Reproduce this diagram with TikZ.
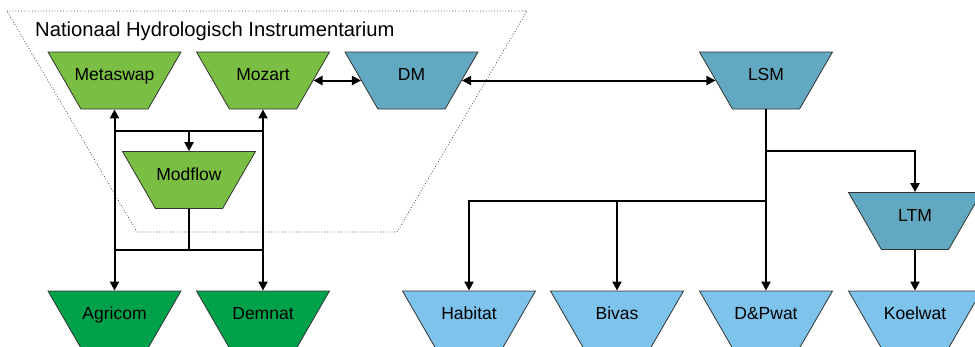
\documentclass[tikz,border=0pt]{standalone}
\usepackage{fontspec}
\setmainfont{Liberation Sans}
\usetikzlibrary{shapes.geometric, arrows.meta}

\definecolor{nhigreen}{RGB}{122,190,67}
\definecolor{agrgreen}{RGB}{0,161,75}
\definecolor{dmblue}{RGB}{98,168,192}
\definecolor{userblue}{RGB}{125,195,235}

% name sits over the box, without widening it
\newcommand{\mname}[1]{\makebox[0pt]{#1}}

\tikzset{
  model/.style={trapezium, shape border rotate=180, trapezium angle=60,
    trapezium stretches body, minimum width=133pt,
    inner xsep=0pt, inner ysep=16pt, draw=black!80, line width=0.8pt,
    font=\fontsize{17.5}{20}\selectfont, text height=12.5pt, text depth=12.5pt},
  link/.style={line width=2pt},
  tip/.style={-{Triangle[length=9pt,width=9pt]}},
  tips/.style={{Triangle[length=9pt,width=9pt]}-{Triangle[length=9pt,width=9pt]}}
}

\begin{document}
\begin{tikzpicture}[x=1pt,y=-1pt]
\useasboundingbox (0,0) rectangle (975,346);
\clip (0,0) rectangle (975,346);

% NHI boundary
\draw[dotted, line width=0.8pt, black!70] (7,11) -- (527,11) -- (397,232) -- (137,232) -- cycle;
\node[anchor=base west, inner sep=0pt, font=\fontsize{20.2}{24}\selectfont] (nhi) at (35,36) {Nationaal Hydrologisch Instrumentarium};

% models
\node[model, fill=nhigreen] (metaswap) at (114.5,80.5) {\mname{Metaswap}};
\node[model, fill=nhigreen] (mozart) at (263,80.5) {\mname{Mozart}};
\node[model, fill=nhigreen] (modflow) at (189,180) {\mname{Modflow}};
\node[model, fill=dmblue] (dm) at (411.5,80.5) {\mname{DM}};
\node[model, fill=dmblue] (lsm) at (766,80.5) {\mname{LSM}};
\node[model, fill=dmblue] (ltm) at (915,221) {\mname{LTM}};

% users
\node[model, fill=agrgreen] (agricom) at (114.5,319.5) {\mname{Agricom}};
\node[model, fill=agrgreen] (demnat) at (263,319.5) {\mname{Demnat}};
\node[model, fill=userblue] (habitat) at (469,319.5) {\mname{Habitat}};
\node[model, fill=userblue] (bivas) at (617,319.5) {\mname{Bivas}};
\node[model, fill=userblue] (dpwat) at (766,319.5) {\mname{D\&Pwat}};
\node[model, fill=userblue] (koelwat) at (915,319.5) {\mname{Koelwat}};

% junctions
\coordinate (upL) at (114.5,131);
\coordinate (upM) at (189,131);
\coordinate (upR) at (263,131);
\coordinate (dnL) at (114.5,250);
\coordinate (dnM) at (189,250);
\coordinate (dnR) at (263,250);
\coordinate (ltmJ) at (766,151);
\coordinate (usrJ) at (766,201);

\draw[link, tips] (metaswap) -- (agricom);
\draw[link, tips] (mozart) -- (demnat);
\draw[link] (upL) -- (upR);
\draw[link, tip] (upM) -- (modflow);
\draw[link] (modflow) -- (dnM);
\draw[link] (dnL) -- (dnR);

\draw[link, tips] (mozart) -- (dm);
\draw[link, tips] (dm) -- (lsm);
\draw[link, tip] (lsm) -- (dpwat);
\draw[link, tip] (ltmJ) -| (ltm);
\draw[link, tip] (usrJ) -| (habitat);
\draw[link, tip] (bivas |- usrJ) -- (bivas);
\draw[link, tip] (ltm) -- (koelwat);
\end{tikzpicture}
\end{document}
